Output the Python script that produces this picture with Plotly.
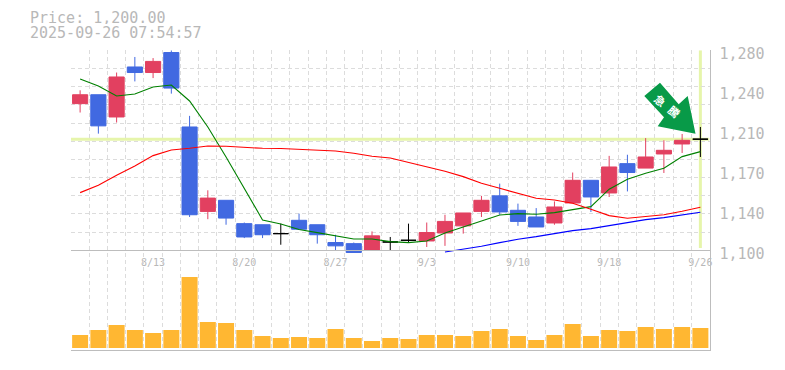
import plotly.graph_objects as go

W, H = 785, 370

dates = ["8/6","8/7","8/8","8/12","8/13","8/14","8/15","8/18","8/19","8/20","8/21","8/22","8/25","8/26","8/27",
         "8/28","8/29","9/1","9/2","9/3","9/4","9/5","9/8","9/9","9/10","9/11","9/12","9/16","9/17","9/18",
         "9/19","9/22","9/24","9/25","9/26"]
label_dates = ["8/13","8/20","8/27","9/3","9/10","9/18","9/26"]
y_labels = [1100, 1140, 1170, 1210, 1240, 1280]
label_price_values = [1100, 1136, 1172, 1208, 1244, 1280]

opens  = [1232,1240,1220,1265,1260,1278,1211,1135,1145,1124,1123,1115,1127,1123,1107,1106,1100,1107.5,1109,1108.4,
          1115.6,1122,1135,1149,1136,1130,1124.6,1142.6,1163,1151.6,1178,1174,1186.7,1195.7,1200]
highs  = [1244,1240,1260,1274,1273,1280,1221,1154,1145,1125,1123,1124,1133,1123,1114,1107,1117,1112,1124,1125,
          1132,1133.6,1149,1160,1142,1138,1144,1170,1163,1185,1186,1201,1199,1204.7,1211]
lows   = [1224,1205,1215,1252,1255,1241,1130,1128,1123,1111,1111,1105,1119,1106,1100,1098,1100,1100,1107.5,1103,
          1104,1115,1130,1132,1122,1121,1123,1142.6,1134.5,1148,1153,1174,1169.6,1187.6,1184]
closes = [1240,1212,1256,1260,1270,1246,1132,1147,1129,1112,1114,1115,1119,1114,1104,1098,1113,1107.5,1109,1116,
          1126,1133.6,1145,1134.5,1126,1121,1139,1163,1148,1175,1170,1184,1190,1199,1200]
ma_short = [1254.2,1247.9,1238.9,1240.7,1247,1248.8,1234.4,1211,1184,1156,1127.3,1123.7,1118.7,1115.9,1112.9,1110.2,
            1110.2,1107.8,1106.9,1108.4,1115.6,1121,1126.7,1131.8,1133,1132.4,1133.9,1136.9,1139.3,1155,1164,1169.3,
            1173.8,1184.3,1188.8]
ma_mid = [1151.9,1158.5,1167.5,1175.9,1185.2,1190.3,1191.8,1193.9,1193.6,1192.7,1191.8,1191.6,1190.9,1190.3,1189.4,
          1187.3,1184.6,1183.1,1179.2,1174.7,1171.1,1166.3,1160.3,1155.8,1151.3,1146.8,1145.3,1142.3,1136.9,1131.2,
          1128.8,1130.3,1132,1135.1,1138.7]
ma_long = [1098.5,1101,1103.6,1106.9,1110,1112.3,1115.3,1117.7,1119.5,1122.2,1125.2,1127.6,1129.4,1131.5,1134.2]
volumes = [1300,1800,2300,1800,1500,1800,7100,2600,2500,1800,1200,1000,1100,1000,1900,1000,700,1000,900,1300,1300,
           1200,1700,1900,1200,800,1300,2400,1200,1800,1700,2100,1900,2100,2000]
last_price = 1200

n = len(dates)
idx = list(range(n))
grid_x = [i - 0.5 for i in range(n + 1)]
grid_y = [1100 + 16.36 * k for k in range(12)]

def fx(px): return px / W
def fy(px): return (H - px) / H

GRID = "#dcdcdc"
AXIS = "#bdbdbd"
TEXT = "#b8b8b8"
RED, BLUE = "#e24060", "#4169e1"
MONO = "DejaVu Sans Mono"

up_dn = [i for i in idx if opens[i] != closes[i]]
doji = [i for i in idx if opens[i] == closes[i]]

fig = go.Figure()

fig.add_trace(go.Candlestick(
    x=up_dn, open=[opens[i] for i in up_dn], high=[highs[i] for i in up_dn],
    low=[lows[i] for i in up_dn], close=[closes[i] for i in up_dn],
    increasing=dict(line=dict(color=RED, width=1), fillcolor=RED),
    decreasing=dict(line=dict(color=BLUE, width=1), fillcolor=BLUE),
    whiskerwidth=0, xaxis="x", yaxis="y", showlegend=False, hoverinfo="skip"))
fig.add_trace(go.Candlestick(
    x=doji, open=[opens[i] for i in doji], high=[highs[i] for i in doji],
    low=[lows[i] for i in doji], close=[closes[i] for i in doji],
    increasing=dict(line=dict(color="#000000", width=1), fillcolor="#000000"),
    decreasing=dict(line=dict(color="#000000", width=1), fillcolor="#000000"),
    whiskerwidth=0, xaxis="x", yaxis="y", showlegend=False, hoverinfo="skip"))

for vals, xs, col in [(ma_short, idx, "#008000"), (ma_mid, idx, "#ff0000"),
                      (ma_long, idx[n - len(ma_long):], "#0000ff")]:
    fig.add_trace(go.Scatter(x=xs, y=vals, mode="lines", line=dict(color=col, width=1.1),
                             xaxis="x", yaxis="y", showlegend=False, hoverinfo="skip"))

fig.add_trace(go.Bar(x=idx, y=volumes, marker=dict(color="#ffb732", line=dict(width=0)),
                     xaxis="x2", yaxis="y2", showlegend=False, hoverinfo="skip"))

# carriers for the label-only axes
fig.add_trace(go.Scatter(x=[0], y=[1200], mode="none", xaxis="x3", yaxis="y",
                         showlegend=False, hoverinfo="skip"))
fig.add_trace(go.Scatter(x=[0], y=[1200], mode="none", xaxis="x", yaxis="y3",
                         showlegend=False, hoverinfo="skip"))

x_dom = [fx(71), fx(709.5)]
x_range = [-0.5, n - 0.5]
grid_common = dict(showgrid=True, gridcolor=GRID, gridwidth=1, griddash="4px,3px", zeroline=False,
                   ticks="", showticklabels=False)

fig.update_layout(
    width=W, height=H, margin=dict(l=0, r=0, t=0, b=0, pad=0, autoexpand=False),
    paper_bgcolor="#ffffff", plot_bgcolor="#ffffff", showlegend=False,
    boxgap=0.17, boxgroupgap=0, bargap=0.123, boxmode="overlay",
    xaxis=dict(domain=x_dom, range=x_range, tickmode="array", tickvals=grid_x, anchor="y",
               rangeslider=dict(visible=False), **grid_common),
    yaxis=dict(domain=[fy(253.3), fy(50.3)], range=[1097.3, 1280], tickmode="array", tickvals=grid_y,
               anchor="x", side="right", showline=True, linecolor=AXIS, linewidth=1, **grid_common),
    xaxis2=dict(domain=x_dom, range=x_range, tickmode="array", tickvals=grid_x, anchor="y2",
                showline=True, linecolor=AXIS, linewidth=1, **grid_common),
    yaxis2=dict(domain=[fy(350), fy(253.3)], range=[-200, 9470], anchor="x2", side="right",
                showline=True, linecolor=AXIS, linewidth=1, showgrid=False, zeroline=False,
                ticks="", showticklabels=False),
    xaxis3=dict(overlaying="x", anchor="free", position=fy(250.3), side="bottom", range=x_range,
                tickmode="array", tickvals=[dates.index(d) for d in label_dates], ticktext=label_dates,
                showgrid=False, zeroline=False, ticks="", showline=True, linecolor=AXIS, linewidth=1,
                tickfont=dict(family=MONO, size=10, color=TEXT), ticklabelstandoff=3),
    yaxis3=dict(overlaying="y", anchor="x", side="right", range=[1100, 1282.7], tickmode="array",
                tickvals=label_price_values, ticktext=[f"{v:,}" for v in y_labels],
                showgrid=False, zeroline=False, ticks="", showline=False,
                tickfont=dict(family=MONO, size=15, color=TEXT), ticklabelstandoff=9),
)

HILITE = "#e6f5ab"
fig.add_shape(type="line", xref="x", yref="y", x0=-0.5, x1=n - 0.5, y0=last_price, y1=last_price,
              line=dict(color=HILITE, width=3), layer="below")
fig.add_shape(type="line", xref="x", yref="y", x0=n - 1, x1=n - 1, y0=1102, y1=1280,
              line=dict(color=HILITE, width=3), layer="below")

arrow = [(660, 82.7), (644.3, 96), (664, 117.3), (657.7, 126.3), (695.5, 133.7), (687.7, 96), (678.7, 104.3)]
path = "M " + " L ".join(f"{fx(a):.5f},{fy(b):.5f}" for a, b in arrow) + " Z"
fig.add_shape(type="path", xref="paper", yref="paper", path=path,
              fillcolor="#089a48", line=dict(width=0), layer="above")

for ch, px, py in [("急", 660, 100), ("騰", 674, 111)]:
    fig.add_annotation(text=ch, xref="paper", yref="paper", x=fx(px), y=fy(py), showarrow=False,
                       textangle=40, xanchor="center", yanchor="middle",
                       font=dict(family="Noto Sans CJK JP", size=11, color="#ffffff", weight="bold"))

for txt, py in [("Price: 1,200.00", 17.5), ("2025-09-26 07:54:57", 33)]:
    fig.add_annotation(text=txt, xref="paper", yref="paper", x=fx(29), y=fy(py), showarrow=False,
                       xanchor="left", yanchor="middle", height=13, borderpad=0,
                       font=dict(family=MONO, size=15, color=TEXT))

fig.write_html("out.html", config=dict(displayModeBar=False),
               post_script="document.body.style.margin='0';document.body.style.overflow='hidden';")
